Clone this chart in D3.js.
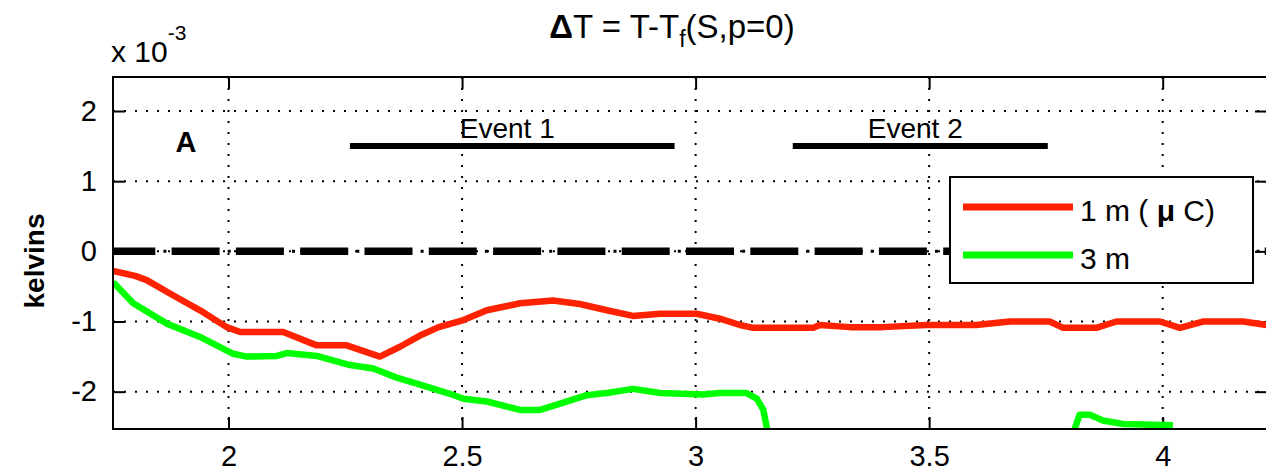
<!DOCTYPE html>
<html>
<head>
<meta charset="utf-8">
<script src="https://cdn.jsdelivr.net/npm/d3@7/dist/d3.min.js"></script>
<style>
  body { margin: 0; background: #fff; }
  svg { font-family: "Liberation Sans", Arial, sans-serif; display: block; }
  .grid line { stroke: #000; stroke-width: 2; stroke-dasharray: 2,9; }
  .axis text { font-size: 29px; fill: #000; }
  .axis line { stroke: #000; stroke-width: 2; }
  .axis path { display: none; }
</style>
</head>
<body>
<div id="container"></div>
<script>
// values (y in units of 1e-3 K)
const redX = [1.753, 1.80, 1.825, 1.882, 1.939, 1.996, 2.025, 2.117, 2.189, 2.253, 2.324, 2.367, 2.41, 2.45,
              2.503, 2.553, 2.624, 2.695, 2.752, 2.81, 2.866, 2.924, 3.002, 3.052, 3.095, 3.123, 3.252, 3.266,
              3.33, 3.40, 3.494, 3.60, 3.673, 3.758, 3.787, 3.858, 3.901, 3.994, 4.037, 4.086, 4.172, 4.223];
const redY = [-0.28, -0.35, -0.41, -0.63, -0.84, -1.08, -1.15, -1.15, -1.34, -1.34, -1.50, -1.36, -1.20, -1.08,
              -0.98, -0.84, -0.74, -0.70, -0.75, -0.84, -0.92, -0.89, -0.89, -0.96, -1.05, -1.09, -1.09, -1.05,
              -1.08, -1.08, -1.05, -1.05, -1.00, -1.00, -1.09, -1.09, -1.00, -1.00, -1.09, -1.00, -1.00, -1.05];

const greenX = [1.753, 1.796, 1.868, 1.939, 2.01, 2.039, 2.103, 2.125, 2.189, 2.26, 2.31, 2.36, 2.41, 2.474,
                2.503, 2.553, 2.624, 2.667, 2.71, 2.767, 2.81, 2.866, 2.924, 3.016, 3.052, 3.109, 3.131, 3.145,
                3.155, 3.40, 3.808, 3.822, 3.844, 3.872, 3.915, 4.022];
const greenY = [-0.44, -0.74, -1.03, -1.22, -1.46, -1.50, -1.49, -1.45, -1.49, -1.62, -1.67, -1.80, -1.90, -2.03,
                -2.10, -2.14, -2.26, -2.26, -2.17, -2.05, -2.02, -1.96, -2.02, -2.04, -2.02, -2.02, -2.10, -2.26,
                -2.60, null, -2.60, -2.33, -2.33, -2.41, -2.46, -2.48];

const xTicks = [2, 2.5, 3, 3.5, 4];
const xTickLabels = ['2', '2.5', '3', '3.5', '4'];
const yTicks = [-2, -1, 0, 1, 2];
const yTickLabels = ['-2', '-1', '0', '1', '2'];

const eventNames = ['Event 1', 'Event 2'];
const eventStart = [2.26, 3.208];
const eventEnd = [2.955, 3.754];
const eventLevel = [1.5, 1.5];

const seriesNames = ['1 m ( μ C)', '3 m'];

const width = 1266;
const height = 474;
const margin = { top: 77, left: 113 };
const plotW = 1154;
const plotH = 352;

const svg = d3.select('#container')
              .append('svg')
              .attr('width', width)
              .attr('height', height);

const x = d3.scaleLinear().domain([1.7527, 4.2233]).range([0, plotW]);
const y = d3.scaleLinear().domain([-2.532, 2.485]).range([plotH, 0]);
const color = d3.scaleOrdinal().domain(seriesNames).range(['#ff2200', '#00ff00']);

const g = svg.append('g').attr('transform', `translate(${margin.left},${margin.top})`);

g.append('clipPath').attr('id', 'clip')
 .append('rect').attr('width', plotW).attr('height', plotH);

// dotted grid
const grid = g.append('g').attr('class', 'grid');
grid.selectAll('.vx')
    .data(xTicks)
    .enter()
    .append('line')
    .attr('x1', d => x(d)).attr('x2', d => x(d))
    .attr('y1', 0).attr('y2', plotH);
grid.selectAll('.hy')
    .data(yTicks)
    .enter()
    .append('line')
    .attr('y1', d => y(d)).attr('y2', d => y(d))
    .attr('x1', 0).attr('x2', plotW);

// axes, ticks pointing inward like matlab
g.append('g')
 .attr('class', 'axis')
 .attr('transform', `translate(0,${plotH})`)
 .call(d3.axisBottom(x).tickValues(xTicks).tickFormat((d, i) => xTickLabels[i])
         .tickSizeInner(-12).tickSizeOuter(0).tickPadding(16));
g.append('g')
 .attr('class', 'axis')
 .call(d3.axisTop(x).tickValues(xTicks).tickFormat('').tickSizeInner(-12).tickSizeOuter(0));
g.append('g')
 .attr('class', 'axis')
 .call(d3.axisLeft(y).tickValues(yTicks).tickFormat((d, i) => yTickLabels[i])
         .tickSizeInner(-12).tickSizeOuter(0).tickPadding(16));
g.append('g')
 .attr('class', 'axis')
 .attr('transform', `translate(${plotW},0)`)
 .call(d3.axisRight(y).tickValues(yTicks).tickFormat('').tickSizeInner(-12).tickSizeOuter(0));

const plot = g.append('g').attr('clip-path', 'url(#clip)');

// zero reference, dash-dot: thick dashes plus thin dots in the gaps
plot.append('line')
    .attr('x1', 0).attr('x2', plotW)
    .attr('y1', y(0)).attr('y2', y(0))
    .attr('stroke', '#000')
    .attr('stroke-width', 7.5)
    .attr('stroke-dasharray', '48,16.3')
    .attr('stroke-dashoffset', 5.7);
plot.append('line')
    .attr('x1', 0).attr('x2', plotW)
    .attr('y1', y(0)).attr('y2', y(0))
    .attr('stroke', '#000')
    .attr('stroke-width', 3)
    .attr('stroke-dasharray', '3,61.3')
    .attr('stroke-dashoffset', 13.9);

// event bars
const events = eventNames.map((n, i) => ({ name: n, x0: eventStart[i], x1: eventEnd[i], level: eventLevel[i] }));
plot.selectAll('.event')
    .data(events)
    .enter()
    .append('line')
    .attr('x1', d => x(d.x0)).attr('x2', d => x(d.x1))
    .attr('y1', d => y(d.level)).attr('y2', d => y(d.level))
    .attr('stroke', '#000')
    .attr('stroke-width', 6);
g.selectAll('.event-text')
 .data(events)
 .enter()
 .append('text')
 .attr('x', d => (x(d.x0) + x(d.x1)) / 2 - 5)
 .attr('y', d => y(d.level) - 8)
 .attr('text-anchor', 'middle')
 .style('font-size', '28px')
 .text(d => d.name);

const line = d3.line()
               .defined(d => d[1] !== null)
               .x(d => x(d[0]))
               .y(d => y(d[1]));

const series = [
    { name: seriesNames[0], pts: redX.map((v, i) => [v, redY[i]]) },
    { name: seriesNames[1], pts: greenX.map((v, i) => [v, greenY[i]]) }
];

plot.selectAll('.series')
    .data(series.slice().reverse())
    .enter()
    .append('path')
    .attr('d', d => line(d.pts))
    .attr('fill', 'none')
    .attr('stroke', d => color(d.name))
    .attr('stroke-width', 6.5)
    .attr('stroke-linejoin', 'round');

// frame
g.append('rect')
 .attr('width', plotW).attr('height', plotH)
 .attr('fill', 'none').attr('stroke', '#000').attr('stroke-width', 2);

// panel letter
g.append('text')
 .attr('x', x(1.909)).attr('y', y(1.41))
 .attr('text-anchor', 'middle')
 .style('font-size', '29px').style('font-weight', 'bold')
 .text('A');

// legend
const legend = svg.append('g').attr('transform', 'translate(950,177)');
legend.append('rect')
      .attr('width', 303).attr('height', 106)
      .attr('fill', '#fff').attr('stroke', '#000').attr('stroke-width', 2);
const item = legend.selectAll('.item')
                   .data(seriesNames)
                   .enter()
                   .append('g')
                   .attr('transform', (d, i) => `translate(0,${30 + i * 48})`);
item.append('line')
    .attr('x1', 13).attr('x2', 123)
    .attr('stroke', d => color(d))
    .attr('stroke-width', 7);
const lt = item.append('text')
               .attr('x', 130).attr('y', 14)
               .style('font-size', '30px');
lt.each(function (d) {
    const t = d3.select(this);
    const k = d.indexOf('μ');
    if (k < 0) { t.text(d); return; }
    t.append('tspan').text(d.slice(0, k));
    t.append('tspan').style('font-weight', 'bold').text('μ');
    t.append('tspan').text(d.slice(k + 1));
});

// title
const title = svg.append('text')
                 .attr('x', 672).attr('y', 38)
                 .attr('text-anchor', 'middle')
                 .style('font-size', '33px');
title.append('tspan').style('font-weight', 'bold').text('Δ');
title.append('tspan').text('T = T-T');
title.append('tspan').attr('dy', 9).style('font-size', '23px').text('f');
title.append('tspan').attr('dy', -9).text('(S,p=0)');

// exponent label
const ex = svg.append('text')
              .attr('x', 111).attr('y', 62)
              .style('font-size', '30px');
ex.append('tspan').text('x 10');
ex.append('tspan').attr('dy', -22).style('font-size', '21px').text('-3');

// y label
svg.append('text')
   .attr('transform', 'translate(44,261) rotate(-90)')
   .attr('text-anchor', 'middle')
   .style('font-size', '28px').style('font-weight', 'bold')
   .text('kelvins');
</script>
</body>
</html>
